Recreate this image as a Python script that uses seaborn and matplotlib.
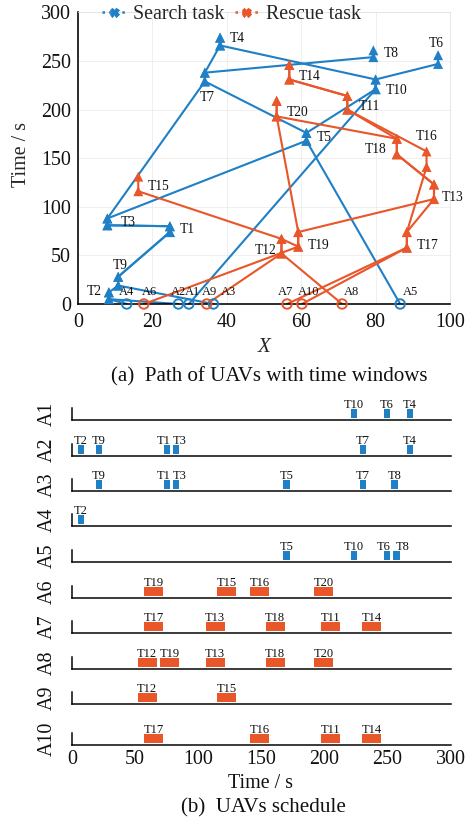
import numpy as np
import pandas as pd
import matplotlib
matplotlib.use("Agg")
import matplotlib.pyplot as plt
from matplotlib.lines import Line2D
import seaborn as sns

# ---------------- data ----------------
search_tasks = ["T1", "T2", "T3", "T4", "T5", "T6", "T7", "T8", "T9", "T10"]
search_x = [24.7, 8.3, 7.9, 38.2, 61.4, 96.8, 34.1, 79.4, 10.8, 80.0]
search_open = [74, 5, 81, 266, 168, 247, 229, 254, 19, 221]
search_close = [80, 12, 88, 274, 176, 256, 238, 261, 28, 231]

rescue_tasks = ["T11", "T12", "T13", "T14", "T15", "T16", "T17", "T18", "T19", "T20"]
rescue_x = [72.4, 54.7, 95.7, 56.8, 16.2, 93.7, 88.4, 85.7, 59.2, 53.4]
rescue_open = [200, 52, 108, 231, 116, 141, 58, 154, 59, 193]
rescue_close = [214, 67, 123, 246, 131, 157, 74, 170, 74, 209]

uavs = ["A1", "A2", "A3", "A4", "A5", "A6", "A7", "A8", "A9", "A10"]
uav_kind = ["search"] * 5 + ["rescue"] * 5
depot_x = [29.8, 27.0, 36.4, 13.1, 86.6, 17.7, 56.2, 71.0, 34.6, 60.2]

route_a1 = ["T10", "T4"]
route_a2 = ["T2", "T9", "T1", "T3", "T7", "T4"]
route_a3 = ["T9", "T1", "T3", "T5", "T7", "T8"]
route_a4 = ["T2"]
route_a5 = ["T5", "T10", "T6"]
route_a6 = ["T19", "T20"]
route_a7 = ["T17", "T13", "T18", "T11", "T14"]
route_a8 = ["T12", "T19", "T13", "T18", "T20"]
route_a9 = ["T12", "T15"]
route_a10 = ["T17", "T16", "T11", "T14"]
routes = [route_a1, route_a2, route_a3, route_a4, route_a5,
          route_a6, route_a7, route_a8, route_a9, route_a10]

# schedule: executed tasks and start times for each UAV
sched_tasks = [
    ["T10", "T6", "T4"],
    ["T2", "T9", "T1", "T3", "T7", "T4"],
    ["T9", "T1", "T3", "T5", "T7", "T8"],
    ["T2"],
    ["T5", "T10", "T6", "T8"],
    ["T19", "T15", "T16", "T20"],
    ["T17", "T13", "T18", "T11", "T14"],
    ["T12", "T19", "T13", "T18", "T20"],
    ["T12", "T15"],
    ["T17", "T16", "T11", "T14"],
]
sched_start = [
    [221, 247, 265],
    [4.5, 19, 72.6, 80, 228, 265],
    [19, 72.6, 80, 167.4, 228, 253],
    [4.5],
    [167.4, 221, 247, 254.6],
    [57, 115, 141, 192],
    [57, 106, 153.5, 197, 230],
    [52, 70, 106, 153.5, 192],
    [52, 115],
    [57, 141, 197, 230],
]
search_duration = 5
rescue_duration = 15

# ---------------- style ----------------
sns.set_theme(style="white")
plt.rcParams["font.family"] = ["Liberation Serif", "DejaVu Serif"]

BLUE = "#1f80c6"
ORANGE = "#e8562a"
palette = {"search": BLUE, "rescue": ORANGE}

task_x = dict(zip(search_tasks + rescue_tasks, search_x + rescue_x))
task_open = dict(zip(search_tasks + rescue_tasks, search_open + rescue_open))
task_close = dict(zip(search_tasks + rescue_tasks, search_close + rescue_close))

W, H = 472, 823
fig = plt.figure(figsize=(W / 72, H / 72), dpi=72)


def fx(px):
    return px / W


def fy(py):
    return 1 - py / H


# ---------------- (a) paths ----------------
ax = fig.add_axes([fx(78), fy(304), (450 - 78) / W, (304 - 12.4) / H])

path_rows = []
mark_rows = []
for uav, kind, dx, route in zip(uavs, uav_kind, depot_x, routes):
    seq = [(dx, 0.0)]
    for t in route:
        seq.append((task_x[t], task_open[t]))
        seq.append((task_x[t], task_close[t]))
        mark_rows.append((task_x[t], task_open[t], kind))
        mark_rows.append((task_x[t], task_close[t], kind))
    for i, (x, y) in enumerate(seq):
        path_rows.append((uav, kind, i, x, y))
paths = pd.DataFrame(path_rows, columns=["uav", "kind", "step", "x", "t"])
marks = pd.DataFrame(mark_rows, columns=["x", "t", "kind"])

sns.lineplot(data=paths, x="x", y="t", hue="kind", units="uav", estimator=None,
             sort=False, palette=palette, hue_order=["search", "rescue"],
             lw=2.1, legend=False, ax=ax, zorder=2)
sns.scatterplot(data=marks, x="x", y="t", hue="kind", palette=palette,
                hue_order=["search", "rescue"], marker="^", s=100,
                linewidth=0, legend=False, ax=ax, zorder=3, clip_on=False)

depot_colors = [palette[k] for k in uav_kind]
ax.scatter(depot_x, np.zeros(len(depot_x)), s=90, facecolors="none",
           edgecolors=depot_colors, linewidths=1.9, zorder=5, clip_on=False)

# task labels
label_offsets = {
    "T1": (10, 0, "left"), "T2": (-7, 4, "right"), "T3": (13, -1, "left"),
    "T4": (10, 3, "left"), "T5": (10, -1, "left"), "T6": (-2, 16, "center"),
    "T7": (2, -20, "center"), "T8": (10, 0, "left"), "T9": (2, 16, "center"),
    "T10": (10, -6, "left"), "T11": (11, -4, "left"), "T12": (-5, -4, "right"),
    "T13": (8, -6, "left"), "T14": (9, -4, "left"), "T15": (9, -3, "left"),
    "T16": (0, 23, "center"), "T17": (10, -6, "left"), "T18": (-10, -3, "right"),
    "T19": (10, -6, "left"), "T20": (10, -4, "left"),
}
for t, (ox, oy, ha) in label_offsets.items():
    ax.annotate(t, (task_x[t], (task_open[t] + task_close[t]) / 2),
                xytext=(ox, oy), textcoords="offset points", ha=ha, va="center",
                fontsize=13.5, color="#111111", zorder=6)

depot_label_dx = [4, 0, 15, 0, 10, 6, -2, 9, 3, 7]
for name, x, ox in zip(uavs, depot_x, depot_label_dx):
    ax.annotate(name, (x, 0), xytext=(ox, 12), textcoords="offset points",
                ha="center", va="center", fontsize=12.5, color="#111111",
                annotation_clip=False, zorder=6)

ax.set_xlim(0, 100)
ax.set_ylim(0, 300)
ax.set_xticks(range(0, 101, 20))
ax.set_yticks(range(0, 301, 50))
ax.grid(True, color="#ebebeb", lw=0.8)
ax.set_axisbelow(True)
for s in ["left", "bottom"]:
    ax.spines[s].set_color("black")
    ax.spines[s].set_linewidth(1.6)
for s in ["top", "right"]:
    ax.spines[s].set_color("#e2e2e2")
    ax.spines[s].set_linewidth(0.8)
ax.tick_params(axis="both", direction="in", length=6, width=1.3, color="black",
               labelsize=20, labelcolor="#111111")
ax.tick_params(axis="x", pad=9)
ax.tick_params(axis="y", pad=7)
ax.set_xlabel("X", fontsize=21, fontstyle="italic")
ax.xaxis.set_label_coords(0.5, -(348 - 304) / 292)
ax.xaxis.label.set_va("center")
ax.set_ylabel("Time / s", fontsize=20)
ax.yaxis.set_label_coords((22 - 78) / 372, (304 - 154) / 292)
ax.yaxis.label.set_va("center")

handles = [
    Line2D([], [], color=BLUE, ls=":", lw=2.5, marker="X", ms=9, label="Search task"),
    Line2D([], [], color=ORANGE, ls=":", lw=2.5, marker="X", ms=9, label="Rescue task"),
]
ax.legend(handles=handles, ncol=2, loc="center left",
          bbox_to_anchor=((102 - 78) / 372, 1 - 2.6 / 292), frameon=False,
          fontsize=20, handlelength=1.15, handletextpad=0.4, columnspacing=0.5,
          borderpad=0, borderaxespad=0)

fig.text(fx(269), fy(377), "(a)  Path of UAVs with time windows", ha="center",
         va="center", fontsize=21, color="#111111")

# ---------------- (b) schedule ----------------
baselines = [420, 456, 491, 526, 562, 598, 633, 669, 704, 745]
# horizontal label shifts (pixels) where neighbouring labels would collide
label_shift = {(1, "T1"): -3, (1, "T3"): 4, (2, "T1"): -3, (2, "T3"): 4,
               (4, "T6"): -3, (4, "T8"): 6}
row_h = 14
for i, (uav, kind, tasks, starts, base) in enumerate(
        zip(uavs, uav_kind, sched_tasks, sched_start, baselines)):
    a = fig.add_axes([fx(72), fy(base), (450.7 - 72) / W, row_h / H])
    a.set_xlim(0, 300)
    a.set_ylim(0, row_h)
    spans = []
    cols = []
    for t, s0 in zip(tasks, starts):
        k = "search" if t in search_tasks else "rescue"
        d = search_duration if k == "search" else rescue_duration
        spans.append((s0, d))
        cols.append(palette[k])
        a.annotate(t, (s0 + d / 2, 12.3), xytext=(label_shift.get((i, t), 0), 0),
                   textcoords="offset points", ha="center", va="baseline",
                   fontsize=12.5, color="#111111", annotation_clip=False)
    a.broken_barh(spans, (2, 9), facecolors=cols, edgecolor="none")
    for s in ["top", "right"]:
        a.spines[s].set_visible(False)
    a.spines["bottom"].set_color("black")
    a.spines["bottom"].set_linewidth(1.5)
    a.spines["left"].set_color("black")
    a.spines["left"].set_linewidth(1.5)
    a.spines["left"].set_bounds(0, 12)
    a.set_yticks([])
    a.set_xticks(range(0, 301, 50))
    a.tick_params(axis="x", direction="in", length=5, width=1.2, color="black",
                  labelsize=20, labelcolor="#111111", pad=5)
    if i < len(uavs) - 1:
        a.set_xticklabels([])
    a.patch.set_alpha(0)
    fig.text(fx(47), fy(base - 6.5), uav, rotation=90, ha="center", va="center",
             fontsize=20, color="#111111")

fig.text(fx(261), fy(783), "Time / s", ha="center", va="center", fontsize=20,
         color="#111111")
fig.text(fx(263), fy(808), "(b)  UAVs schedule", ha="center", va="center",
         fontsize=21, color="#111111")

fig.savefig("out.png", dpi=72)
